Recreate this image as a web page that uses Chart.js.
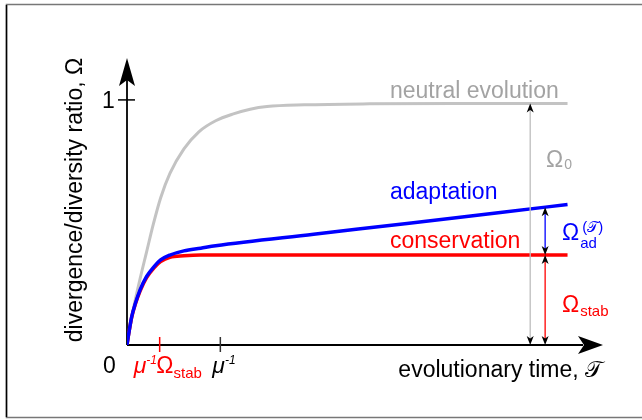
<!DOCTYPE html>
<html>
<head>
<meta charset="utf-8">
<script src="https://cdn.jsdelivr.net/npm/chart.js@4/dist/chart.umd.min.js"></script>
<style>
  html, body { margin: 0; padding: 0; background: #fff; }
  #wrap { width: 642px; height: 420px; }
</style>
</head>
<body>
<div id="wrap"><canvas id="omegaChart" width="642" height="420"></canvas></div>
<script>
'use strict';

// time in units of 1/mu, values are the divergence/diversity ratio
const neutralTime   = [0, 0.07, 0.14, 0.21, 0.28, 0.36, 0.46, 0.61, 0.77, 0.95, 1.14, 1.32, 1.5, 1.9, 2.6, 3.5, 4.72];
const neutralValues = [0, 0.15, 0.27, 0.38, 0.49, 0.60, 0.70, 0.80, 0.87, 0.915, 0.943, 0.962, 0.973, 0.98, 0.984, 0.985, 0.985];

const adaptTime   = [0, 0.02, 0.05, 0.09, 0.14, 0.21, 0.29, 0.36, 0.46, 0.61, 0.79, 0.95, 2.0, 3.0, 4.0, 4.72];
const adaptValues = [0, 0.05, 0.115, 0.17, 0.225, 0.28, 0.32, 0.347, 0.367, 0.384, 0.395, 0.405, 0.452, 0.496, 0.541, 0.573];

const conservTime   = [0, 0.02, 0.05, 0.09, 0.14, 0.21, 0.29, 0.36, 0.46, 0.61, 0.79, 1.2, 4.72];
const conservValues = [0, 0.05, 0.113, 0.167, 0.22, 0.275, 0.315, 0.34, 0.358, 0.364, 0.367, 0.367, 0.367];

const seriesLabels = ['adaptation', 'conservation', 'neutral evolution'];
const tickPositions = [0.35, 1.0];   // mu^-1 Omega_stab, mu^-1
// right-hand double arrows: x position, from, to
const arrowOmega0 = {x: 4.32, from: 0, to: 0.985};
const arrowStab   = {x: 4.48, from: 0, to: 0.367};
const arrowAdapt  = {x: 4.48, from: 0.367, to: 0.562};

const FONT = '"Liberation Sans", Arial, sans-serif';
const GREY_LINE = '#c3c3c3';
const GREY_TEXT = '#a3a3a3';

const toPoints = (xs, ys) => xs.map((x, i) => ({x, y: ys[i]}));

function arrowHead(ctx, x, y, dx, dy, len, half, notch) {
  // tip at (x, y), pointing along (dx, dy)
  const px = -dy, py = dx;
  ctx.beginPath();
  ctx.moveTo(x, y);
  ctx.lineTo(x - dx * len + px * half, y - dy * len + py * half);
  ctx.lineTo(x - dx * (len - notch), y - dy * (len - notch));
  ctx.lineTo(x - dx * len - px * half, y - dy * len - py * half);
  ctx.closePath();
  ctx.fill();
}

function doubleArrow(ctx, xs, ys, a, color) {
  const x = xs.getPixelForValue(a.x);
  const y0 = ys.getPixelForValue(a.from);
  const y1 = ys.getPixelForValue(a.to);
  ctx.strokeStyle = color;
  ctx.lineWidth = 1.3;
  ctx.beginPath();
  ctx.moveTo(x, y0 - 3);
  ctx.lineTo(x, y1 + 3);
  ctx.stroke();
  ctx.fillStyle = '#000';
  arrowHead(ctx, x, y0, 0, 1, 9, 3.5, 2.5);
  arrowHead(ctx, x, y1, 0, -1, 9, 3.5, 2.5);
}

function txt(ctx, s, x, y, size, color, italic) {
  ctx.font = (italic ? 'italic ' : '') + size + 'px ' + FONT;
  ctx.fillStyle = color;
  ctx.fillText(s, x, y);
  return x + ctx.measureText(s).width;
}

const overlay = {
  id: 'overlay',
  beforeDatasetsDraw(chart) {
    const ctx = chart.ctx;
    const xs = chart.scales.x, ys = chart.scales.y;
    const x0 = xs.getPixelForValue(0), y0 = ys.getPixelForValue(0);
    const area = chart.chartArea;
    ctx.save();
    // frame
    ctx.strokeStyle = '#777';
    ctx.lineWidth = 1.5;
    ctx.beginPath();
    ctx.moveTo(642, 4.5); ctx.lineTo(6.5, 4.5); ctx.lineTo(6.5, 417.5); ctx.lineTo(642, 417.5);
    ctx.stroke();
    ctx.strokeStyle = '#000';
    ctx.beginPath(); ctx.moveTo(6.5, 5); ctx.lineTo(6.5, 417); ctx.stroke();

    // axes
    ctx.strokeStyle = '#000';
    ctx.fillStyle = '#000';
    ctx.lineWidth = 1.8;
    ctx.beginPath();
    ctx.moveTo(x0, y0); ctx.lineTo(x0, area.top + 20);
    ctx.moveTo(x0, y0); ctx.lineTo(area.right - 20, y0);
    ctx.stroke();
    arrowHead(ctx, x0, area.top, 0, -1, 28, 8, 6);
    arrowHead(ctx, area.right, y0, 1, 0, 25, 9, 6);

    // y tick at 1
    const y1 = ys.getPixelForValue(1);
    ctx.lineWidth = 1.5;
    ctx.beginPath(); ctx.moveTo(x0 - 9, y1); ctx.lineTo(x0 + 8, y1); ctx.stroke();

    // x ticks
    const tRed = xs.getPixelForValue(tickPositions[0]);
    const tBlack = xs.getPixelForValue(tickPositions[1]);
    ctx.strokeStyle = '#ff0000';
    ctx.beginPath(); ctx.moveTo(tRed, y0 - 8); ctx.lineTo(tRed, y0 + 7); ctx.stroke();
    ctx.strokeStyle = '#333';
    ctx.beginPath(); ctx.moveTo(tBlack, y0 - 8); ctx.lineTo(tBlack, y0 + 7); ctx.stroke();

    // tick labels
    ctx.textAlign = 'left';
    ctx.textBaseline = 'alphabetic';
    txt(ctx, '0', x0 - 24, y0 + 28, 23, '#000');
    txt(ctx, '1', x0 - 25, y1 + 8, 23, '#000');
    let cx = txt(ctx, 'μ', tRed - 26, y0 + 28, 23, '#ff0000', true);
    txt(ctx, '-1', cx, y0 + 19, 12, '#ff0000', true);
    cx = txt(ctx, 'Ω', cx + 10, y0 + 28, 23, '#ff0000');
    txt(ctx, 'stab', cx, y0 + 33, 15, '#ff0000');
    cx = txt(ctx, 'μ', tBlack - 8, y0 + 28, 23, '#000', true);
    txt(ctx, '-1', cx, y0 + 19, 12, '#000', true);

    // axis titles
    ctx.textAlign = 'right';
    txt(ctx, 'evolutionary time, 𝒯', area.right, y0 + 32, 23, '#000');
    ctx.save();
    ctx.translate(82, 200);
    ctx.rotate(-Math.PI / 2);
    ctx.textAlign = 'center';
    txt(ctx, 'divergence/diversity ratio, Ω', 0, 0, 23, '#000');
    ctx.restore();
    ctx.restore();
  },
  afterDatasetsDraw(chart) {
    const ctx = chart.ctx;
    const xs = chart.scales.x, ys = chart.scales.y;
    ctx.save();
    doubleArrow(ctx, xs, ys, arrowOmega0, '#bdbdbd');
    doubleArrow(ctx, xs, ys, arrowStab, '#ff0000');
    doubleArrow(ctx, xs, ys, arrowAdapt, '#0000ff');

    ctx.textAlign = 'left';
    ctx.textBaseline = 'alphabetic';
    // series names
    txt(ctx, seriesLabels[2], 390, 98, 23, GREY_TEXT);
    txt(ctx, seriesLabels[0], 390, 199, 23, '#0000ff');
    txt(ctx, seriesLabels[1], 390, 248, 23, '#ff0000');

    // omega labels
    let cx = txt(ctx, 'Ω', 546, 167, 23, GREY_TEXT);
    txt(ctx, '0', cx + 1, 169, 14, GREY_TEXT);
    cx = txt(ctx, 'Ω', 562, 240, 23, '#0000ff');
    txt(ctx, 'ad', cx + 1, 248, 15, '#0000ff');
    txt(ctx, '(𝒯)', cx + 3, 232, 15, '#0000ff');
    cx = txt(ctx, 'Ω', 562, 312, 23, '#ff0000');
    txt(ctx, 'stab', cx + 1, 316, 15, '#ff0000');
    ctx.restore();
  }
};

new Chart(document.getElementById('omegaChart'), {
  type: 'line',
  data: {
    datasets: [
      {
        label: seriesLabels[0],
        data: toPoints(adaptTime, adaptValues),
        borderColor: '#0000ff',
        borderWidth: 3.5
      },
      {
        label: seriesLabels[1],
        data: toPoints(conservTime, conservValues),
        borderColor: '#ff0000',
        borderWidth: 3.5
      },
      {
        label: seriesLabels[2],
        data: toPoints(neutralTime, neutralValues),
        borderColor: GREY_LINE,
        borderWidth: 3
      }
    ]
  },
  options: {
    responsive: false,
    animation: false,
    events: [],
    layout: {padding: {left: 127, right: 39, top: 58, bottom: 75}},
    elements: {
      point: {radius: 0},
      line: {cubicInterpolationMode: 'monotone', fill: false, capBezierPoints: true}
    },
    plugins: {legend: {display: false}, tooltip: {enabled: false}},
    scales: {
      x: {type: 'linear', min: 0, max: 5.1, display: false},
      y: {type: 'linear', min: 0, max: 1.171, display: false}
    }
  },
  plugins: [overlay]
});
</script>
</body>
</html>
